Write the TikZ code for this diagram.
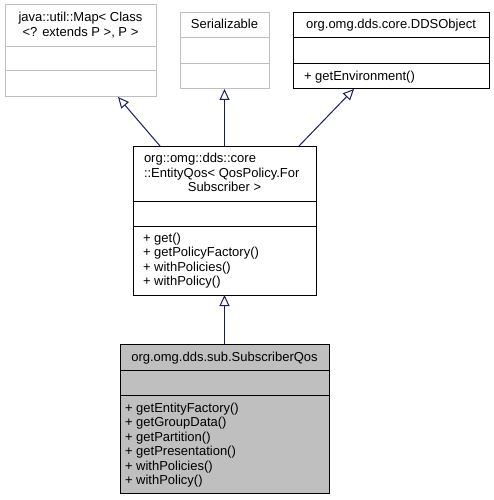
\documentclass[tikz,border=0pt]{standalone}
\usepackage{fontspec}
\setmainfont{Liberation Sans}
\usetikzlibrary{arrows.meta,calc}
\definecolor{edgeblue}{RGB}{25,25,112}
\definecolor{lgray}{RGB}{191,191,191}
\begin{document}
\begin{tikzpicture}[x=1pt,y=-1pt,
  box/.style={draw, line width=1pt, inner sep=0pt, outer sep=0pt, anchor=north west, rectangle},
  ext/.style={box, draw=lgray},
  div/.style={line width=1pt},
  txt/.style={inner sep=0pt, outer sep=0pt, font=\fontsize{13}{15}\selectfont, anchor=base},
  lt/.style={txt, anchor=base west},
  inh/.style={draw=edgeblue, line width=1pt, -{Triangle[open, length=11pt, width=10pt, fill=white]}}]
\useasboundingbox (0,0) rectangle (494,500);

% java::util::Map
\node[ext, minimum width=151pt, minimum height=92pt] (map) at (5,5) {};
\draw[div, lgray] (map.west |- 0,47) -- (map.east |- 0,47);
\draw[div, lgray] (map.west |- 0,71) -- (map.east |- 0,71);
\node[txt] (mapt1) at (80.5,21.5) {java::util::Map< Class};
\node[txt] (mapt2) at (80.5,36.5) {<? extends P >, P >};

% Serializable
\node[ext, minimum width=89pt, minimum height=76pt] (ser) at (180,13) {};
\draw[div, lgray] (ser.west |- 0,38) -- (ser.east |- 0,38);
\draw[div, lgray] (ser.west |- 0,64) -- (ser.east |- 0,64);
\node[txt] (sert) at (224.5,29) {Serializable};

% DDSObject
\node[box, minimum width=196pt, minimum height=76pt] (dds) at (293,13) {};
\draw[div] (dds.west |- 0,38) -- (dds.east |- 0,38);
\draw[div] (dds.west |- 0,64) -- (dds.east |- 0,64);
\node[txt] (ddst) at (391,29) {org.omg.dds.core.DDSObject};
\node[lt] (ddsm) at (304,81) {+ getEnvironment()};

% EntityQos
\node[box, minimum width=183pt, minimum height=149pt] (eq) at (133,146) {};
\draw[div] (eq.west |- 0,201) -- (eq.east |- 0,201);
\draw[div] (eq.west |- 0,226) -- (eq.east |- 0,226);
\node[lt] (eqt1) at (144,162.5) {org::omg::dds::core};
\node[lt] (eqt2) at (144,177) {::EntityQos< QosPolicy.For};
\node[txt] (eqt3) at (224.5,191.5) {Subscriber >};
\foreach \m [count=\i from 0] in {get(), getPolicyFactory(), withPolicies(), withPolicy()}
  \node[lt] (eqm\i) at (143,242.5+14.4*\i) {+ \m};

% SubscriberQos
\node[box, fill=lgray, minimum width=209pt, minimum height=149pt] (sub) at (120,344) {};
\draw[div] (sub.west |- 0,370) -- (sub.east |- 0,370);
\draw[div] (sub.west |- 0,395) -- (sub.east |- 0,395);
\node[txt] (subt) at (224.5,361.5) {org.omg.dds.sub.SubscriberQos};
\foreach \m [count=\i from 0] in {getEntityFactory(), getGroupData(), getPartition(), getPresentation(), withPolicies(), withPolicy()}
  \node[lt] (subm\i) at (125,412.5+14.4*\i) {+ \m};

% inheritance arrows
\draw[inh] ($(eq.north west)+(27,0)$) -- ($(map.south west)+(113,0)$);
\draw[inh] (eq.north) -- (ser.south);
\draw[inh] ($(eq.north west)+(166,0)$) -- ($(dds.south west)+(61,0)$);
\draw[inh] (sub.north) -- (eq.south);
\end{tikzpicture}
\end{document}
